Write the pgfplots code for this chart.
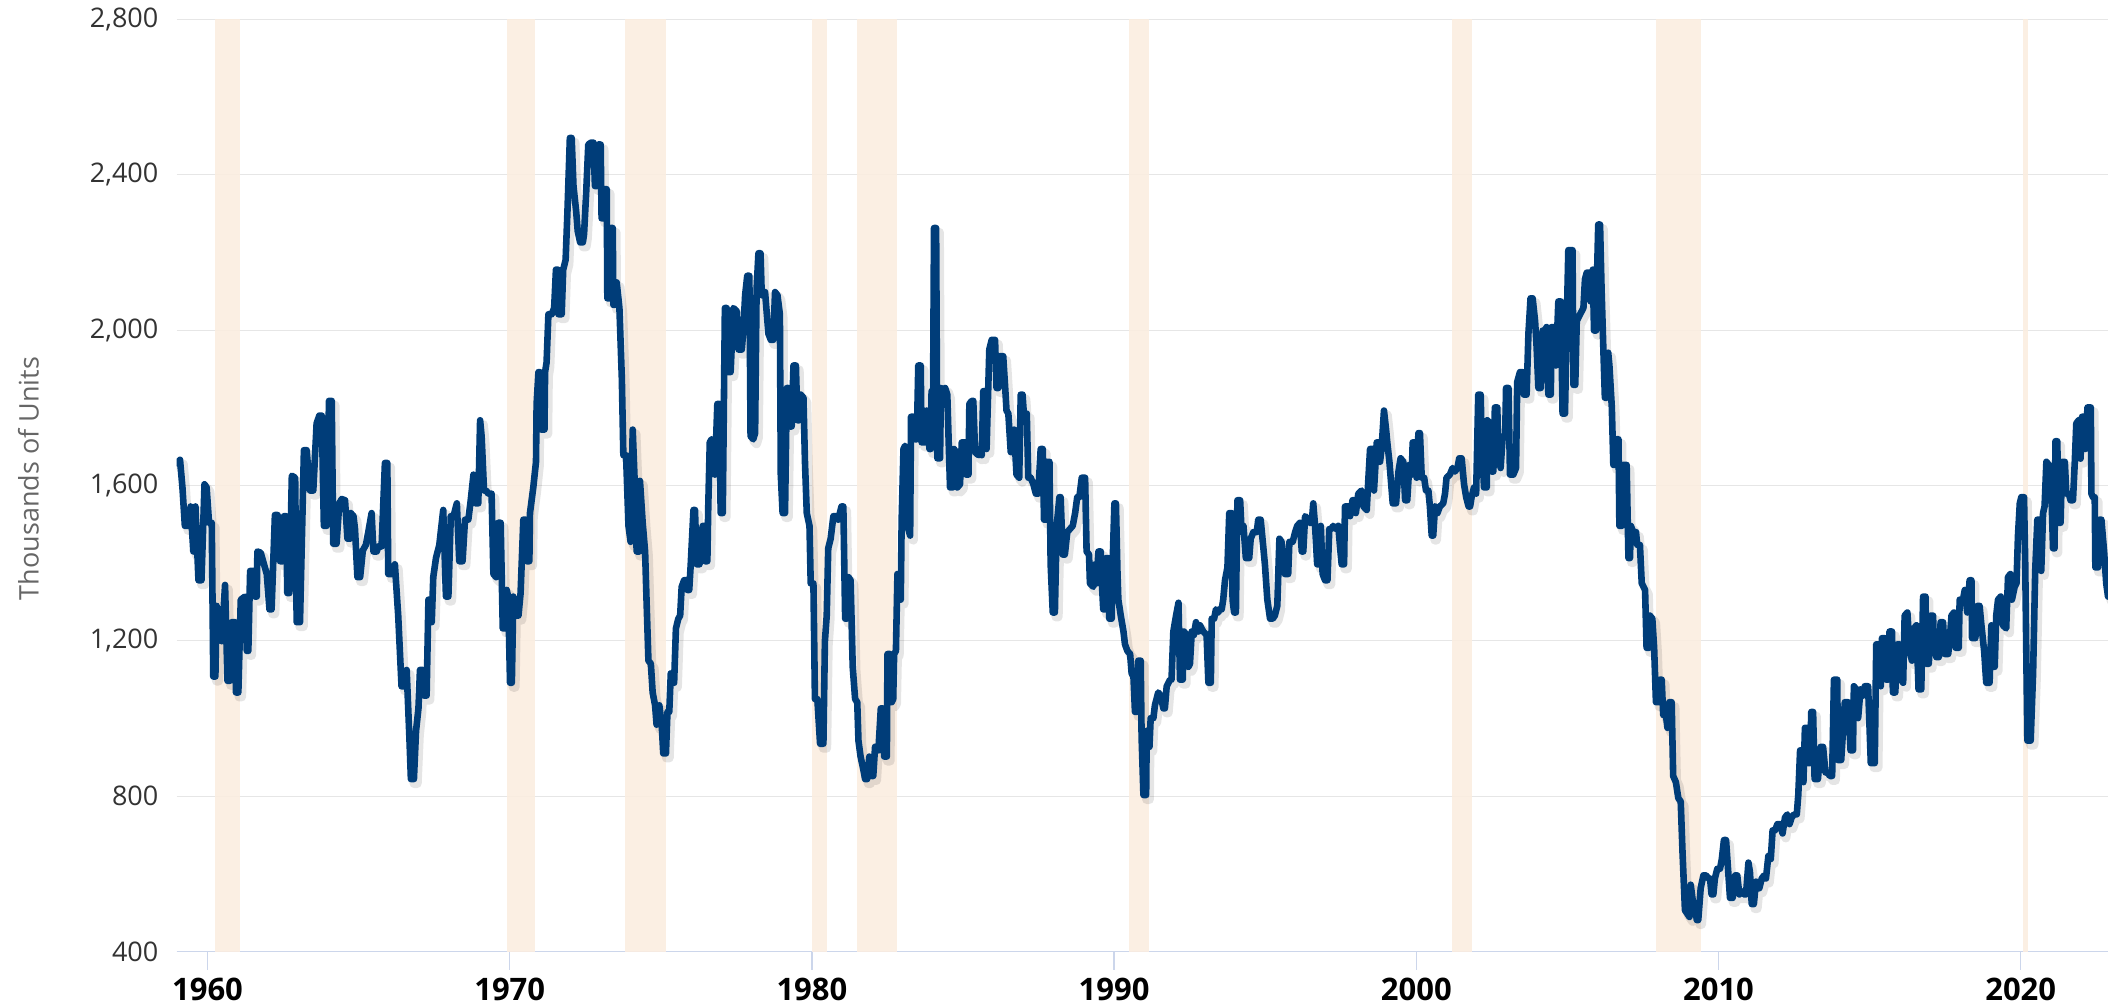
\documentclass[border=0pt]{standalone}
\usepackage{fontspec}
\setmainfont{Open Sans}
\usepackage{pgfplots}
\usepackage{pgfplotstable}
\pgfplotsset{compat=1.18}
\definecolor{linecol}{RGB}{0,61,121}
\definecolor{bandcol}{RGB}{251,237,224}
\definecolor{gridcol}{RGB}{230,230,230}
\definecolor{axcol}{RGB}{204,214,235}
\definecolor{ticklab}{RGB}{51,51,51}
\definecolor{ylabcol}{RGB}{102,102,102}

\pgfplotstableread{
t v
1959.00 1657
1959.09 1666
1959.17 1595
1959.25 1496
1959.37 1496
1959.44 1546
1959.53 1430
1959.60 1546
1959.70 1356
1959.80 1356
1959.90 1603
1959.97 1595
1960.05 1504
1960.14 1504
1960.19 1108
1960.26 1108
1960.30 1290
1960.41 1240
1960.47 1199
1960.58 1344
1960.66 1097
1960.74 1097
1960.80 1248
1960.91 1248
1960.94 1067
1961.02 1067
1961.10 1306
1961.24 1314
1961.30 1174
1961.35 1174
1961.41 1380
1961.52 1380
1961.57 1314
1961.63 1314
1961.65 1430
1961.76 1427
1961.96 1372
1962.05 1281
1962.12 1281
1962.23 1524
1962.32 1524
1962.40 1405
1962.49 1405
1962.53 1521
1962.60 1521
1962.64 1323
1962.71 1323
1962.79 1625
1962.90 1620
1962.95 1248
1963.06 1248
1963.19 1691
1963.28 1691
1963.39 1587
1963.50 1587
1963.61 1760
1963.70 1780
1963.78 1780
1963.85 1496
1963.94 1496
1964.02 1818
1964.11 1818
1964.16 1450
1964.27 1450
1964.36 1554
1964.44 1565
1964.55 1562
1964.63 1463
1964.72 1463
1964.74 1529
1964.83 1521
1964.88 1488
1964.96 1364
1965.05 1364
1965.14 1433
1965.24 1447
1965.32 1480
1965.43 1529
1965.49 1430
1965.60 1430
1965.65 1443
1965.76 1443
1965.87 1658
1965.95 1658
1965.98 1372
1966.09 1372
1966.20 1397
1966.31 1265
1966.42 1083
1966.53 1083
1966.59 1125
1966.68 951
1966.73 844
1966.83 844
1966.90 968
1966.98 1026
1967.03 1125
1967.12 1125
1967.16 1059
1967.25 1059
1967.31 1306
1967.38 1306
1967.42 1248
1967.47 1364
1967.56 1413
1967.67 1447
1967.80 1537
1967.89 1314
1967.97 1314
1968.05 1521
1968.14 1521
1968.25 1554
1968.33 1405
1968.44 1405
1968.52 1512
1968.63 1512
1968.71 1562
1968.80 1628
1968.87 1554
1968.96 1554
1969.02 1768
1969.07 1727
1969.15 1587
1969.22 1587
1969.29 1579
1969.40 1579
1969.46 1372
1969.55 1364
1969.62 1504
1969.70 1504
1969.77 1232
1969.84 1232
1969.90 1331
1969.95 1314
1970.01 1092
1970.07 1092
1970.12 1314
1970.21 1265
1970.29 1265
1970.36 1323
1970.45 1512
1970.52 1512
1970.56 1405
1970.65 1405
1970.67 1529
1970.78 1595
1970.87 1661
1970.89 1810
1970.95 1892
1971.00 1892
1971.04 1744
1971.15 1744
1971.17 1892
1971.22 1917
1971.28 2041
1971.39 2041
1971.47 2057
1971.53 2156
1971.59 2156
1971.61 2041
1971.72 2041
1971.77 2156
1971.85 2181
1971.91 2305
1971.99 2495
1972.05 2495
1972.11 2371
1972.20 2305
1972.25 2255
1972.33 2226
1972.42 2226
1972.46 2247
1972.53 2354
1972.60 2478
1972.69 2483
1972.77 2483
1972.82 2371
1972.88 2371
1972.93 2478
1973.01 2478
1973.04 2288
1973.10 2288
1973.15 2363
1973.21 2363
1973.23 2082
1973.32 2082
1973.35 2263
1973.41 2263
1973.43 2065
1973.48 2065
1973.54 2123
1973.63 2057
1973.71 1876
1973.76 1678
1973.85 1678
1973.93 1496
1974.00 1455
1974.07 1744
1974.15 1579
1974.20 1430
1974.29 1430
1974.31 1612
1974.40 1504
1974.48 1430
1974.53 1298
1974.59 1149
1974.67 1141
1974.73 1067
1974.81 1034
1974.86 984
1974.95 1034
1975.03 984
1975.08 910
1975.17 910
1975.22 1017
1975.28 1017
1975.33 1116
1975.39 1108
1975.44 1092
1975.50 1232
1975.58 1257
1975.64 1265
1975.69 1339
1975.77 1356
1975.84 1356
1975.88 1331
1975.94 1331
1975.99 1397
1976.08 1537
1976.13 1537
1976.19 1397
1976.28 1397
1976.32 1471
1976.39 1496
1976.43 1496
1976.46 1405
1976.54 1405
1976.57 1546
1976.62 1711
1976.68 1719
1976.76 1711
1976.79 1628
1976.87 1810
1976.94 1810
1976.98 1529
1977.05 1529
1977.12 2057
1977.18 2057
1977.23 1892
1977.31 1892
1977.40 2057
1977.51 2049
1977.57 1950
1977.68 1950
1977.73 1999
1977.79 2090
1977.86 2140
1977.93 2140
1977.97 1727
1978.06 1719
1978.12 1735
1978.17 2107
1978.23 2198
1978.30 2198
1978.34 2090
1978.39 2090
1978.45 2098
1978.56 1991
1978.64 1975
1978.72 1975
1978.78 2098
1978.86 2090
1978.94 2041
1978.97 1628
1979.03 1529
1979.11 1529
1979.17 1851
1979.22 1851
1979.28 1752
1979.33 1752
1979.39 1909
1979.47 1909
1979.52 1768
1979.58 1768
1979.63 1834
1979.72 1826
1979.77 1661
1979.83 1529
1979.92 1496
1979.96 1348
1980.05 1348
1980.10 1050
1980.18 1050
1980.27 935
1980.38 935
1980.43 1199
1980.49 1265
1980.54 1438
1980.62 1463
1980.71 1521
1980.80 1521
1980.87 1512
1980.98 1546
1981.04 1546
1981.10 1257
1981.15 1257
1981.21 1364
1981.28 1356
1981.35 1133
1981.43 1050
1981.50 1042
1981.54 943
1981.61 902
1981.70 869
1981.76 844
1981.83 844
1981.90 902
1981.98 852
1982.03 852
1982.09 927
1982.20 918
1982.28 1026
1982.34 1026
1982.39 902
1982.48 902
1982.50 1166
1982.59 1166
1982.64 1042
1982.69 1050
1982.72 1166
1982.78 1174
1982.83 1372
1982.89 1364
1982.94 1306
1982.97 1512
1983.03 1694
1983.08 1702
1983.14 1694
1983.19 1488
1983.25 1471
1983.28 1777
1983.36 1777
1983.41 1719
1983.47 1719
1983.52 1909
1983.60 1909
1983.63 1711
1983.74 1711
1983.80 1793
1983.89 1694
1983.93 1694
1983.96 1843
1984.00 1711
1984.04 2263
1984.11 2263
1984.15 1670
1984.24 1670
1984.27 1851
1984.35 1826
1984.41 1851
1984.48 1834
1984.57 1595
1984.66 1595
1984.70 1694
1984.77 1686
1984.81 1595
1984.90 1603
1984.96 1711
1985.07 1711
1985.10 1628
1985.18 1628
1985.21 1810
1985.29 1818
1985.34 1818
1985.40 1686
1985.51 1678
1985.56 1694
1985.62 1678
1985.67 1843
1985.76 1843
1985.78 1694
1985.87 1950
1985.95 1975
1986.06 1975
1986.11 1851
1986.17 1851
1986.22 1933
1986.33 1933
1986.39 1859
1986.44 1793
1986.50 1785
1986.58 1686
1986.64 1686
1986.69 1744
1986.77 1628
1986.86 1620
1986.91 1834
1986.97 1834
1987.02 1777
1987.11 1785
1987.16 1620
1987.24 1620
1987.33 1603
1987.41 1579
1987.49 1579
1987.57 1694
1987.64 1694
1987.68 1512
1987.75 1512
1987.79 1661
1987.86 1661
1987.90 1397
1987.97 1273
1988.04 1273
1988.10 1496
1988.19 1570
1988.23 1570
1988.30 1422
1988.37 1422
1988.45 1480
1988.54 1488
1988.63 1496
1988.71 1529
1988.78 1570
1988.85 1570
1988.93 1620
1989.04 1620
1989.09 1430
1989.17 1422
1989.20 1348
1989.31 1339
1989.37 1397
1989.42 1348
1989.48 1430
1989.56 1430
1989.59 1356
1989.64 1281
1989.70 1281
1989.73 1413
1989.81 1413
1989.84 1257
1989.92 1257
1989.95 1397
1990.01 1554
1990.06 1554
1990.11 1380
1990.14 1306
1990.22 1265
1990.31 1224
1990.36 1191
1990.44 1174
1990.53 1166
1990.58 1116
1990.64 1108
1990.69 1017
1990.75 1017
1990.80 1149
1990.88 1149
1990.91 951
1990.97 803
1991.06 803
1991.08 968
1991.17 927
1991.21 1001
1991.30 1001
1991.35 1034
1991.46 1067
1991.54 1059
1991.63 1026
1991.68 1026
1991.74 1083
1991.85 1100
1991.90 1100
1991.96 1224
1992.05 1265
1992.13 1298
1992.18 1100
1992.27 1100
1992.31 1224
1992.40 1215
1992.46 1133
1992.51 1141
1992.57 1224
1992.64 1215
1992.71 1248
1992.79 1224
1992.84 1240
1992.95 1224
1993.06 1215
1993.12 1092
1993.20 1092
1993.23 1257
1993.31 1257
1993.37 1281
1993.45 1273
1993.48 1281
1993.56 1281
1993.61 1306
1993.67 1356
1993.75 1389
1993.81 1529
1993.89 1529
1993.92 1306
1993.97 1273
1994.03 1273
1994.08 1562
1994.17 1562
1994.22 1480
1994.28 1496
1994.36 1413
1994.47 1413
1994.52 1463
1994.61 1480
1994.72 1480
1994.77 1512
1994.85 1512
1994.92 1455
1994.99 1397
1995.07 1306
1995.16 1257
1995.25 1257
1995.32 1265
1995.40 1290
1995.47 1463
1995.54 1455
1995.65 1372
1995.76 1372
1995.80 1455
1995.91 1455
1995.99 1480
1996.06 1496
1996.15 1504
1996.21 1430
1996.26 1430
1996.32 1521
1996.39 1516
1996.46 1504
1996.54 1504
1996.59 1554
1996.65 1496
1996.72 1397
1996.79 1397
1996.84 1496
1996.90 1372
1996.98 1356
1997.06 1356
1997.12 1488
1997.20 1488
1997.25 1496
1997.34 1488
1997.42 1496
1997.48 1438
1997.53 1397
1997.61 1397
1997.64 1546
1997.75 1546
1997.81 1521
1997.89 1562
1997.94 1562
1998.00 1529
1998.08 1579
1998.19 1587
1998.25 1546
1998.36 1537
1998.41 1612
1998.47 1694
1998.58 1694
1998.60 1587
1998.69 1711
1998.74 1711
1998.80 1661
1998.85 1694
1998.93 1793
1999.00 1744
1999.04 1711
1999.11 1661
1999.22 1554
1999.33 1554
1999.41 1636
1999.48 1670
1999.57 1661
1999.63 1562
1999.70 1562
1999.77 1653
1999.85 1628
1999.88 1711
1999.96 1711
2000.01 1620
2000.07 1735
2000.12 1735
2000.18 1620
2000.26 1620
2000.32 1587
2000.40 1587
2000.45 1546
2000.51 1471
2000.56 1471
2000.62 1546
2000.70 1529
2000.78 1546
2000.89 1554
2000.95 1579
2001.00 1620
2001.11 1628
2001.20 1645
2001.28 1636
2001.36 1645
2001.42 1670
2001.50 1670
2001.58 1603
2001.65 1570
2001.73 1546
2001.78 1546
2001.83 1570
2001.91 1595
2001.98 1579
2002.05 1834
2002.13 1834
2002.16 1727
2002.24 1595
2002.33 1595
2002.35 1768
2002.44 1760
2002.49 1636
2002.55 1636
2002.60 1801
2002.68 1801
2002.71 1694
2002.79 1645
2002.86 1727
2002.94 1727
2002.97 1851
2003.05 1851
2003.10 1628
2003.21 1628
2003.30 1645
2003.34 1867
2003.43 1892
2003.52 1892
2003.56 1834
2003.65 1834
2003.71 1991
2003.78 2082
2003.85 2082
2003.93 2024
2003.98 1958
2004.04 1851
2004.12 1851
2004.18 1999
2004.26 1999
2004.31 2008
2004.37 1834
2004.45 1834
2004.48 2008
2004.56 2008
2004.62 1909
2004.70 2074
2004.78 2074
2004.84 1785
2004.92 1785
2004.98 2024
2005.03 2206
2005.17 2206
2005.20 1859
2005.26 1859
2005.31 2024
2005.42 2041
2005.53 2057
2005.58 2131
2005.64 2148
2005.73 2148
2005.77 2074
2005.84 2156
2005.88 1999
2005.95 1999
2005.97 2107
2006.02 2272
2006.08 2272
2006.13 2107
2006.19 1950
2006.24 1826
2006.30 1826
2006.35 1942
2006.39 1909
2006.47 1801
2006.52 1653
2006.58 1653
2006.63 1719
2006.69 1719
2006.72 1496
2006.80 1496
2006.85 1653
2006.96 1653
2007.02 1413
2007.07 1413
2007.10 1496
2007.18 1480
2007.27 1480
2007.31 1447
2007.40 1447
2007.46 1348
2007.57 1331
2007.62 1182
2007.70 1182
2007.73 1265
2007.81 1257
2007.87 1182
2007.93 1042
2008.01 1042
2008.06 1100
2008.12 1100
2008.17 1009
2008.26 1009
2008.31 976
2008.37 1042
2008.45 1042
2008.50 852
2008.59 836
2008.67 795
2008.75 786
2008.81 654
2008.89 506
2008.97 497
2009.04 489
2009.08 572
2009.15 530
2009.22 522
2009.28 481
2009.33 481
2009.41 563
2009.50 596
2009.59 596
2009.66 588
2009.72 588
2009.77 547
2009.83 547
2009.88 588
2009.96 613
2010.05 613
2010.11 638
2010.18 687
2010.25 687
2010.33 596
2010.38 538
2010.47 538
2010.55 596
2010.62 596
2010.69 547
2010.77 555
2010.84 547
2010.91 547
2010.99 629
2011.04 605
2011.10 522
2011.17 522
2011.24 580
2011.29 563
2011.35 563
2011.43 588
2011.51 596
2011.57 588
2011.65 646
2011.73 638
2011.79 712
2011.87 712
2011.95 728
2012.04 728
2012.12 704
2012.20 745
2012.28 753
2012.35 728
2012.42 745
2012.50 753
2012.59 753
2012.64 803
2012.70 918
2012.75 918
2012.81 836
2012.86 976
2012.92 976
2012.97 885
2013.03 885
2013.07 1017
2013.13 1017
2013.18 844
2013.29 844
2013.38 927
2013.46 927
2013.54 861
2013.62 861
2013.68 852
2013.76 852
2013.82 1100
2013.93 1100
2013.95 893
2014.06 893
2014.18 1042
2014.29 1042
2014.37 918
2014.45 918
2014.48 1083
2014.56 1075
2014.62 1001
2014.70 1075
2014.78 1059
2014.84 1083
2014.95 1083
2015.04 885
2015.17 885
2015.22 1191
2015.30 1191
2015.37 1083
2015.41 1207
2015.50 1207
2015.55 1100
2015.61 1100
2015.66 1224
2015.74 1224
2015.77 1067
2015.85 1067
2015.92 1191
2015.99 1191
2016.05 1100
2016.11 1092
2016.16 1265
2016.25 1273
2016.33 1174
2016.40 1149
2016.47 1232
2016.55 1240
2016.62 1075
2016.71 1075
2016.77 1314
2016.85 1314
2016.88 1141
2016.96 1141
2017.02 1265
2017.10 1265
2017.13 1182
2017.21 1158
2017.29 1158
2017.35 1248
2017.43 1248
2017.49 1166
2017.60 1166
2017.65 1199
2017.71 1265
2017.79 1273
2017.85 1182
2017.95 1182
2017.98 1306
2018.09 1306
2018.15 1331
2018.23 1273
2018.31 1356
2018.37 1356
2018.39 1207
2018.50 1207
2018.57 1290
2018.64 1290
2018.70 1240
2018.79 1174
2018.86 1092
2018.97 1092
2019.03 1240
2019.08 1224
2019.14 1133
2019.19 1265
2019.25 1306
2019.34 1314
2019.41 1240
2019.52 1232
2019.58 1364
2019.66 1372
2019.71 1306
2019.80 1339
2019.86 1348
2019.91 1471
2019.97 1554
2020.02 1570
2020.11 1570
2020.15 1397
2020.22 943
2020.33 943
2020.41 1116
2020.48 1380
2020.55 1512
2020.63 1512
2020.68 1380
2020.74 1529
2020.79 1546
2020.85 1661
2020.93 1653
2020.96 1595
2021.01 1595
2021.07 1438
2021.12 1438
2021.15 1714
2021.21 1714
2021.26 1504
2021.32 1504
2021.37 1661
2021.46 1661
2021.51 1579
2021.59 1579
2021.65 1562
2021.73 1562
2021.79 1661
2021.84 1760
2021.92 1768
2021.98 1669
2022.03 1777
2022.10 1777
2022.14 1694
2022.21 1801
2022.32 1801
2022.34 1579
2022.39 1570
2022.45 1570
2022.47 1389
2022.56 1389
2022.61 1512
2022.67 1512
2022.76 1430
2022.83 1348
2022.89 1314
2022.95 1330
}\housing

\begin{document}
\begin{tikzpicture}
\begin{axis}[
  at={(0,0)}, anchor=south west,
  scale only axis,
  width=965.65pt, height=466pt,
  xmin=1958.98, xmax=2022.89,
  ymin=400, ymax=2800,
  ytick={400,800,...,2800},
  xtick={1960,1970,1980,1990,2000,2010,2020},
  xticklabels={1960,1970,1980,1990,2000,2010,2020},
  ymajorgrids,
  grid style={gridcol, line width=0.6pt},
  axis x line*=bottom,
  axis y line*=left,
  x axis line style={axcol, line width=0.7pt, -},
  y axis line style={draw=none},
  tick align=outside,
  major tick length=9pt,
  xtick style={axcol, line width=0.7pt},
  ytick style={draw=none},
  /pgf/number format/assume math mode=true,
  /pgf/number format/1000 sep={,},
  yticklabel style={font=\fontsize{13.5}{16}\selectfont, color=ticklab, inner sep=0pt, xshift=0pt},
  xticklabel style={font=\fontsize{15.5}{18}\selectfont\bfseries, color=black, inner sep=0pt, yshift=-4.3pt},
  clip=true,
]
% recession bands
\addplot[draw=none, fill=bandcol, fill opacity=0.9] coordinates {(1960.25,400) (1960.25,2800) (1961.08,2800) (1961.08,400)} -- cycle;
\addplot[draw=none, fill=bandcol, fill opacity=0.9] coordinates {(1969.92,400) (1969.92,2800) (1970.83,2800) (1970.83,400)} -- cycle;
\addplot[draw=none, fill=bandcol, fill opacity=0.9] coordinates {(1973.83,400) (1973.83,2800) (1975.17,2800) (1975.17,400)} -- cycle;
\addplot[draw=none, fill=bandcol, fill opacity=0.9] coordinates {(1980.0,400) (1980.0,2800) (1980.5,2800) (1980.5,400)} -- cycle;
\addplot[draw=none, fill=bandcol, fill opacity=0.9] coordinates {(1981.5,400) (1981.5,2800) (1982.83,2800) (1982.83,400)} -- cycle;
\addplot[draw=none, fill=bandcol, fill opacity=0.9] coordinates {(1990.5,400) (1990.5,2800) (1991.17,2800) (1991.17,400)} -- cycle;
\addplot[draw=none, fill=bandcol, fill opacity=0.9] coordinates {(2001.17,400) (2001.17,2800) (2001.83,2800) (2001.83,400)} -- cycle;
\addplot[draw=none, fill=bandcol, fill opacity=0.9] coordinates {(2007.92,400) (2007.92,2800) (2009.42,2800) (2009.42,400)} -- cycle;
\addplot[draw=none, fill=bandcol, fill opacity=0.9] coordinates {(2020.08,400) (2020.08,2800) (2020.25,2800) (2020.25,400)} -- cycle;
% shadow
\addplot[black, opacity=0.10, line width=4.6pt, line join=round, line cap=round, xshift=1.6pt, yshift=-2.2pt] table[x=t, y=v] {\housing};
% series
\addplot[linecol, line width=3.3pt, line join=round, line cap=round] table[x=t, y=v] {\housing};
\end{axis}
\node[rotate=90, font=\fontsize{13.5}{16}\selectfont, color=ylabcol] at (-74.1pt, 236.5pt) {Thousands of Units};
\pgfresetboundingbox
\useasboundingbox (-88.35pt,-27.25pt) rectangle (965.65pt,475.75pt);
\end{tikzpicture}
\end{document}
